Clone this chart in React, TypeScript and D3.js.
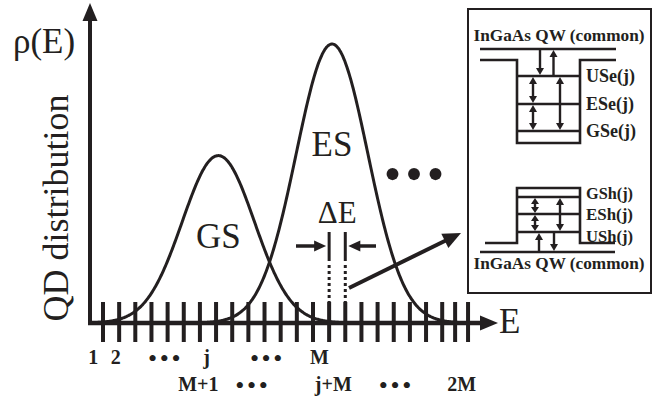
import React from 'react';
import * as d3 from 'd3';

// energy bins (tick positions, in bin units)
const tickEnergies = [0, 1, 2, 3, 4, 5, 6, 7, 8, 9, 10, 11, 12, 13, 14, 15, 16, 17, 18, 19, 20, 21, 21.8, 22.6];

// inhomogeneous QD distribution: ground state and excited state peaks
const peakNames = ['GS', 'ES'];
const peakCenters = [7.14, 14.18];
const peakHeights = [0.6, 1.0];
const peakWidths = [2.23, 2.22];
const peakLabelY = [0.27, 0.6];

// bin labels under the axis (text, position in bin units)
const row1Labels = ['1', '2', '•••', 'j', '•••', 'M'];
const row1Pos = [-0.61, 0.79, 3.8, 6.42, 10.1, 13.4];
const row2Labels = ['M+1', '•••', 'j+M', '•••', '2M'];
const row2Pos = [5.9, 9.2, 14.26, 18.08, 22.2];

// inset levels
const electronLevels = ['USe(j)', 'ESe(j)', 'GSe(j)'];
const electronLevelY = [76, 104, 131];
const holeLevels = ['GSh(j)', 'ESh(j)', 'USh(j)'];
const holeLevelY = [197, 214, 232];
const holeLabelY = [192.5, 214, 235.5];

const INK = '#231f20';
const SERIF = '"Liberation Serif", "Times New Roman", serif';

const arrowHead = (x1: number, y1: number, x2: number, y2: number, len: number, half: number) => {
  const a = Math.atan2(y2 - y1, x2 - x1);
  const bx = x2 - len * Math.cos(a);
  const by = y2 - len * Math.sin(a);
  const px = -Math.sin(a) * half;
  const py = Math.cos(a) * half;
  return `${x2},${y2} ${bx + px},${by + py} ${bx - px},${by - py}`;
};

const Arrow = ({ x1, y1, x2, y2, w = 2.4, len = 7, half = 4, both = false }: any) => {
  const a = Math.atan2(y2 - y1, x2 - x1);
  const sx = both ? x1 + (len - 1) * Math.cos(a) : x1;
  const sy = both ? y1 + (len - 1) * Math.sin(a) : y1;
  const ex = x2 - (len - 1) * Math.cos(a);
  const ey = y2 - (len - 1) * Math.sin(a);
  return (
    <g>
      <line x1={sx} y1={sy} x2={ex} y2={ey} stroke={INK} strokeWidth={w} />
      <polygon points={arrowHead(x1, y1, x2, y2, len, half)} fill={INK} />
      {both && <polygon points={arrowHead(x2, y2, x1, y1, len, half)} fill={INK} />}
    </g>
  );
};

const isDots = (t: string) => t === '•••';

export default function App() {
  const x = d3.scaleLinear().domain([0, 21]).range([103, 442.2]);
  const y = d3.scaleLinear().domain([0, 1]).range([323, 44]);

  const samples = d3.range(-0.8, 22.61, 0.05);
  const line = d3
    .line<number>()
    .x((e) => x(e))
    .curve(d3.curveBasis);

  const curves = peakNames.map((name, i) => {
    const g = (e: number) =>
      peakHeights[i] * Math.exp(-((e - peakCenters[i]) ** 2) / (2 * peakWidths[i] ** 2));
    return line.y((e) => y(g(e)))(samples) as string;
  });

  const axisY = y(0);
  const dE0 = x(14);
  const dE1 = x(15);

  const binLabel = (t: string, xp: number, base: number, key: number) =>
    isDots(t) ? (
      <text key={key} x={xp} y={base + 3} fontSize={26} letterSpacing={2.6} dx={1.3} fontWeight="normal">
        {t}
      </text>
    ) : (
      <text key={key} x={xp} y={base}>
        {t}
      </text>
    );

  return (
    <svg width={660} height={402} style={{ position: 'absolute', left: 0, top: 0, background: '#fff' }}>
      {/* axes */}
      <line x1={90} y1={axisY + 2} x2={90} y2={18} stroke={INK} strokeWidth={4} />
      <polygon points={arrowHead(90, 30, 90, 3, 18, 7.5)} fill={INK} />
      <line x1={88} y1={axisY} x2={484} y2={axisY} stroke={INK} strokeWidth={4.5} />
      <polygon points={arrowHead(470, axisY, 498, axisY, 18, 7.5)} fill={INK} />
      {tickEnergies.map((e, i) => (
        <line key={i} x1={x(e)} x2={x(e)} y1={axisY - 21} y2={axisY + 19} stroke={INK} strokeWidth={4} />
      ))}

      {/* distributions */}
      {curves.map((d, i) => (
        <path key={i} d={d} fill="none" stroke={INK} strokeWidth={3} />
      ))}

      {/* text */}
      <g fontFamily={SERIF} fill={INK}>
        <text x={13} y={53} fontSize={35}>ρ(E)</text>
        <text transform="translate(68,208) rotate(-90)" textAnchor="middle" fontSize={36}>
          QD distribution
        </text>
        {peakNames.map((n, i) => (
          <text key={n} x={x(peakCenters[i])} y={y(peakLabelY[i])} textAnchor="middle" fontSize={35}>
            {n}
          </text>
        ))}
        <text x={499} y={333} fontSize={35}>E</text>
        <text x={(dE0 + dE1) / 2} y={223} textAnchor="middle" fontSize={31}>ΔE</text>
        <text x={414} y={191} textAnchor="middle" fontSize={50} letterSpacing={4} dx={2}>•••</text>
      </g>

      {/* Delta E markers */}
      {[dE0, dE1].map((xv, i) => (
        <g key={i}>
          <line x1={xv} x2={xv} y1={232} y2={261} stroke={INK} strokeWidth={3} />
          <line x1={xv} x2={xv} y1={265} y2={302} stroke={INK} strokeWidth={3} strokeDasharray="3 3" />
        </g>
      ))}
      <Arrow x1={296} y1={246} x2={dE0 - 3} y2={246} w={3.5} len={12} half={5.5} />
      <Arrow x1={376} y1={246} x2={dE1 + 3} y2={246} w={3.5} len={12} half={5.5} />
      <Arrow x1={349} y1={288} x2={461} y2={233} w={4} len={18} half={8} />

      {/* bin labels */}
      <g fontFamily={SERIF} fontWeight="bold" fontSize={20} fill={INK} textAnchor="middle">
        {row1Labels.map((t, i) => binLabel(t, x(row1Pos[i]), 364, i))}
        {row2Labels.map((t, i) => binLabel(t, x(row2Pos[i]), 391, 10 + i))}
      </g>

      {/* inset: band diagram */}
      <g>
        <rect x={468} y={9} width={183} height={284} fill="#fff" stroke={INK} strokeWidth={2} />
        <g fontFamily={SERIF} fontWeight="bold" fill={INK}>
          <text x={559} y={41} fontSize={17} textAnchor="middle" textLength={171} lengthAdjust="spacingAndGlyphs">
            InGaAs QW (common)
          </text>
          <text x={559} y={269} fontSize={17} textAnchor="middle" textLength={171} lengthAdjust="spacingAndGlyphs">
            InGaAs QW (common)
          </text>
          {electronLevels.map((t, i) => (
            <text key={t} x={586} y={electronLevelY[i]} dy="0.36em" fontSize={18}>{t}</text>
          ))}
          {holeLevels.map((t, i) => (
            <text key={t} x={586} y={holeLabelY[i]} dy="0.36em" fontSize={17} textLength={47} lengthAdjust="spacingAndGlyphs">{t}</text>
          ))}
        </g>
        <g stroke={INK} strokeWidth={2.6} fill="none">
          <line x1={480} x2={616} y1={49} y2={49} />
          <path d="M480,60 H517 V143 H580 V60 H616" />
          {electronLevelY.map((ly, i) => (
            <line key={i} x1={517} x2={580} y1={ly} y2={ly} />
          ))}
          <path d="M485,243 H517 V188 H580 V243 H615" />
          {holeLevelY.map((ly, i) => (
            <line key={i} x1={517} x2={580} y1={ly} y2={ly} />
          ))}
          <line x1={480} x2={615} y1={252} y2={252} />
        </g>
        {/* electron transitions */}
        <Arrow x1={540} y1={50} x2={540} y2={75} />
        <Arrow x1={553.5} y1={75} x2={553.5} y2={50} />
        <Arrow x1={533} y1={electronLevelY[0] + 1} x2={533} y2={electronLevelY[1] - 1} both />
        <Arrow x1={533} y1={electronLevelY[1] + 1} x2={533} y2={electronLevelY[2] - 1} both />
        <Arrow x1={560} y1={electronLevelY[0] + 1} x2={560} y2={electronLevelY[2] - 1} both />
        {/* hole transitions */}
        <Arrow x1={535} y1={holeLevelY[0] + 1} x2={535} y2={holeLevelY[1] - 1} both len={6} />
        <Arrow x1={535} y1={holeLevelY[1] + 1} x2={535} y2={holeLevelY[2] - 1} both len={6} />
        <Arrow x1={560} y1={holeLevelY[0] + 1} x2={560} y2={holeLevelY[2] - 1} both />
        <Arrow x1={539} y1={251} x2={539} y2={233} />
        <Arrow x1={554} y1={233} x2={554} y2={251} />
      </g>
    </svg>
  );
}
